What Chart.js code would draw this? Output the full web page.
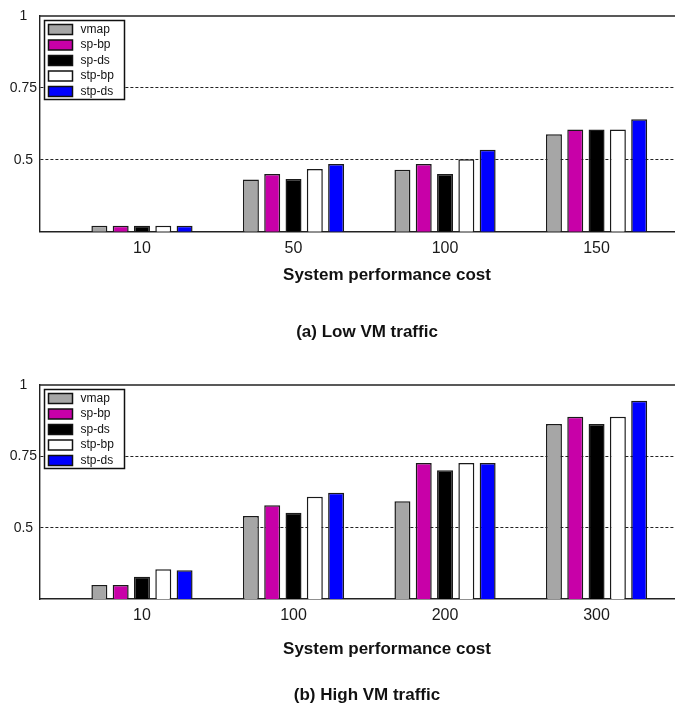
<!DOCTYPE html>
<html>
<head>
<meta charset="utf-8">
<script src="https://cdn.jsdelivr.net/npm/chart.js@4.4.1/dist/chart.umd.min.js"></script>
<style>
html, body { margin: 0; padding: 0; background: #fff; overflow: hidden; }
.wrap { position: absolute; left: 0; width: 734px; }
</style>
</head>
<body>
<div class="wrap" style="top:0;height:350px"><canvas id="lowChart" width="734" height="350"></canvas></div>
<div class="wrap" style="top:350px;height:361px"><canvas id="highChart" width="734" height="361"></canvas></div>
<script>
const seriesNames = ['vmap', 'sp-bp', 'sp-ds', 'stp-bp', 'stp-ds'];
const seriesColors = ['#a6a6a6', '#c800a8', '#000000', '#ffffff', '#0000ff'];
const yTicks = [0.5, 0.75, 1];

// (a) Low VM traffic
const lowCategories = ['10', '50', '100', '150'];
const lowVmap  = [0.27, 0.431, 0.465, 0.589];
const lowSpBp  = [0.27, 0.450, 0.485, 0.605];
const lowSpDs  = [0.27, 0.433, 0.450, 0.605];
const lowStpBp = [0.27, 0.468, 0.502, 0.605];
const lowStpDs = [0.27, 0.485, 0.535, 0.641];

// (b) High VM traffic
const highCategories = ['10', '100', '200', '300'];
const highVmap  = [0.299, 0.541, 0.593, 0.863];
const highSpBp  = [0.299, 0.579, 0.727, 0.889];
const highSpDs  = [0.328, 0.552, 0.701, 0.863];
const highStpBp = [0.354, 0.608, 0.727, 0.889];
const highStpDs = [0.351, 0.622, 0.727, 0.945];

Chart.defaults.font.family = '"Liberation Sans", Arial, sans-serif';
Chart.defaults.color = '#1a1a1a';

const boxLegend = {
    id: 'boxLegend',
    afterDatasetsDraw(chart) {
        const { ctx, chartArea } = chart;
        const x0 = chartArea.left + 4.5, y0 = chartArea.top + 4.5;
        ctx.save();
        ctx.fillStyle = '#fff';
        ctx.fillRect(x0, y0, 80, 79);
        ctx.strokeStyle = '#111';
        ctx.lineWidth = 1.5;
        ctx.strokeRect(x0, y0, 80, 79);
        ctx.font = '12px "Liberation Sans", Arial, sans-serif';
        ctx.textBaseline = 'middle';
        chart.data.datasets.forEach((ds, i) => {
            const cy = y0 + 9 + i * 15.5;
            ctx.fillStyle = ds.backgroundColor;
            ctx.fillRect(x0 + 4, cy - 5, 24, 10);
            ctx.strokeRect(x0 + 4, cy - 5, 24, 10);
            ctx.fillStyle = '#111';
            ctx.fillText(ds.label, x0 + 36, cy);
        });
        ctx.restore();
    }
};

const topBorder = {
    id: 'topBorder',
    afterDraw(chart) {
        const { ctx, chartArea } = chart;
        ctx.save();
        ctx.strokeStyle = '#222';
        ctx.lineWidth = 1.4;
        ctx.beginPath();
        ctx.moveTo(chartArea.left, chartArea.top);
        ctx.lineTo(chartArea.right, chartArea.top);
        ctx.stroke();
        ctx.restore();
    }
};

function makeChart(canvasId, categories, series, caption, pads) {
    const datasets = series.map((vals, k) => ({
        label: seriesNames[k],
        data: vals.map((v, i) => ({ x: i + 1, y: v })),
        backgroundColor: seriesColors[k],
        borderColor: '#1a1a1a',
        borderWidth: 1.5,
        categoryPercentage: 0.703,
        barPercentage: 0.75
    }));

    return new Chart(document.getElementById(canvasId), {
        type: 'bar',
        data: { datasets: datasets },
        options: {
            responsive: false,
            animation: false,
            layout: { padding: { top: pads.top, left: 0, right: 0, bottom: 0 } },
            plugins: {
                legend: { display: false },
                tooltip: { enabled: false },
                title: {
                    display: true,
                    position: 'bottom',
                    text: caption,
                    color: '#111',
                    font: { size: 17, weight: 'bold' },
                    padding: { top: pads.capTop, bottom: pads.capBottom }
                }
            },
            scales: {
                x: {
                    type: 'linear',
                    min: 0.327,
                    max: 4.907,
                    offset: false,
                    grid: { display: false, drawTicks: false },
                    border: { display: true, color: '#222', width: 1.4 },
                    afterBuildTicks: axis => {
                        axis.ticks = categories.map((c, i) => ({ value: i + 1 }));
                    },
                    ticks: {
                        autoSkip: false,
                        maxRotation: 0,
                        padding: 7,
                        font: { size: 16 },
                        callback: v => categories[v - 1]
                    },
                    title: {
                        display: true,
                        text: 'System performance cost',
                        color: '#111',
                        font: { size: 17, weight: 'bold' },
                        padding: { top: pads.axTop, bottom: 4 }
                    }
                },
                y: {
                    min: 0.25,
                    max: 1,
                    afterFit: s => { s.width = 40; },
                    afterBuildTicks: axis => {
                        axis.ticks = [0.25].concat(yTicks).map(v => ({ value: v }));
                    },
                    grid: {
                        drawTicks: false,
                        color: c => (c.tick && (c.tick.value === 0.5 || c.tick.value === 0.75)) ? '#222' : 'rgba(0,0,0,0)',
                        lineWidth: 1
                    },
                    border: { display: true, color: '#222', width: 1.4, dash: [3, 2] },
                    ticks: {
                        crossAlign: 'center',
                        padding: 3,
                        font: { size: 14 },
                        callback: v => yTicks.includes(v) ? String(v) : ''
                    }
                }
            }
        },
        plugins: [boxLegend, topBorder]
    });
}

makeChart('lowChart', lowCategories,
    [lowVmap, lowSpBp, lowSpDs, lowStpBp, lowStpDs],
    '(a) Low VM traffic',
    { top: 16, axTop: 0, capTop: 32.6, capBottom: 7.8 });

makeChart('highChart', highCategories,
    [highVmap, highSpBp, highSpDs, highStpBp, highStpDs],
    '(b) High VM traffic',
    { top: 35, axTop: 6.6, capTop: 21.6, capBottom: 5.8 });
</script>
</body>
</html>
